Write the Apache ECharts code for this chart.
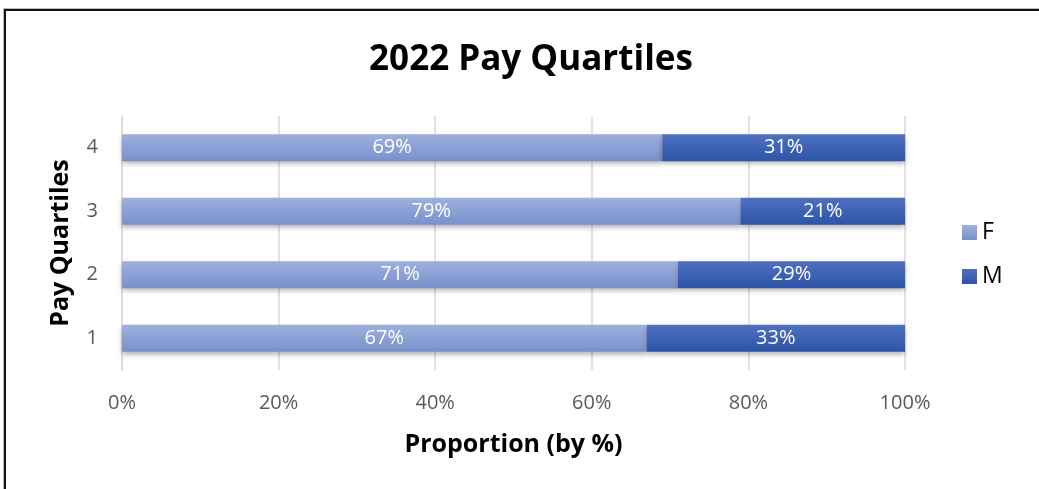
<!DOCTYPE html>
<html>
<head>
<meta charset="utf-8">
<script src="https://cdn.jsdelivr.net/npm/echarts@6/dist/echarts.min.js"></script>
<style>
  html, body { margin: 0; padding: 0; background: #fff; }
  #frame {
    position: absolute; left: 4px; top: 9px; width: 1100px; height: 520px;
    border-top: 2px solid #111; border-left: 2px solid #111;
    box-shadow: -1px -1px 0 #bbb;
  }
  #chart { position: absolute; left: 0; top: 0; width: 1039px; height: 489px; }
</style>
</head>
<body>
<div id="frame"></div>
<div id="chart"></div>
<script>
// 四分位 (bottom to top)
const quartiles = ['1', '2', '3', '4'];
const femaleShare = [67, 71, 79, 69];
const maleShare = [33, 29, 21, 31];
const xTicks = [0, 20, 40, 60, 80, 100];

const chart = echarts.init(document.getElementById('chart'));

function grad(top, bottom) {
  return new echarts.graphic.LinearGradient(0, 0, 0, 1, [
    { offset: 0, color: top },
    { offset: 1, color: bottom }
  ]);
}

const fontFam = 'Open Sans, Liberation Sans, sans-serif';

const option = {
  animation: false,
  title: {
    text: '2022 Pay Quartiles',
    left: 526,
    top: 38,
    textAlign: 'center',
    textStyle: { fontFamily: fontFam, fontSize: 35, fontWeight: 'bold', color: '#000' }
  },
  legend: {
    orient: 'vertical',
    left: 957,
    top: 216,
    icon: 'rect',
    itemWidth: 15,
    itemHeight: 15,
    itemGap: 21,
    data: ['F', 'M'],
    textStyle: { fontFamily: fontFam, fontSize: 23, color: '#000', padding: [0, 0, 0, 0] }
  },
  grid: { left: 122, right: 134, top: 116, bottom: 119 },
  xAxis: {
    type: 'value',
    min: 0,
    max: 100,
    interval: 20,
    name: 'Proportion (by %)',
    nameLocation: 'middle',
    nameGap: 62,
    nameTextStyle: { fontFamily: fontFam, fontSize: 25, fontWeight: 'bold', color: '#000' },
    axisLine: { show: false },
    axisTick: { show: false },
    axisLabel: {
      margin: 23,
      fontFamily: fontFam, fontSize: 20, color: '#595959',
      formatter: v => (xTicks.includes(v) ? v + '%' : '')
    },
    splitLine: { lineStyle: { color: '#d9d9d9', width: 1.5 } }
  },
  yAxis: {
    type: 'category',
    data: quartiles,
    name: 'Pay Quartiles',
    nameLocation: 'middle',
    nameGap: 49,
    nameRotate: 90,
    nameTextStyle: { fontFamily: fontFam, fontSize: 25, fontWeight: 'bold', color: '#000' },
    axisLine: { lineStyle: { color: '#d9d9d9', width: 1.5 } },
    axisTick: { length: 8, lineStyle: { color: '#d9d9d9', width: 1.5 } },
    axisLabel: { margin: 24, fontFamily: fontFam, fontSize: 20, color: '#595959' }
  },
  series: [
    {
      name: 'F',
      type: 'bar',
      stack: 'total',
      barWidth: 27,
      data: femaleShare,
      itemStyle: {
        color: grad('#9eb0dd', '#7890cb'),
        shadowColor: 'rgba(0,0,0,0.3)', shadowBlur: 5, shadowOffsetY: 3
      },
      label: {
        show: true, position: 'inside', color: '#fff',
        fontFamily: fontFam, fontSize: 20, formatter: '{c}%'
      }
    },
    {
      name: 'M',
      type: 'bar',
      stack: 'total',
      barWidth: 27,
      data: maleShare,
      itemStyle: {
        color: grad('#4f70c0', '#2c54a8'),
        shadowColor: 'rgba(0,0,0,0.3)', shadowBlur: 5, shadowOffsetY: 3
      },
      label: {
        show: true, position: 'inside', color: '#fff',
        fontFamily: fontFam, fontSize: 20, formatter: '{c}%'
      }
    }
  ]
};

chart.setOption(option);
</script>
</body>
</html>
